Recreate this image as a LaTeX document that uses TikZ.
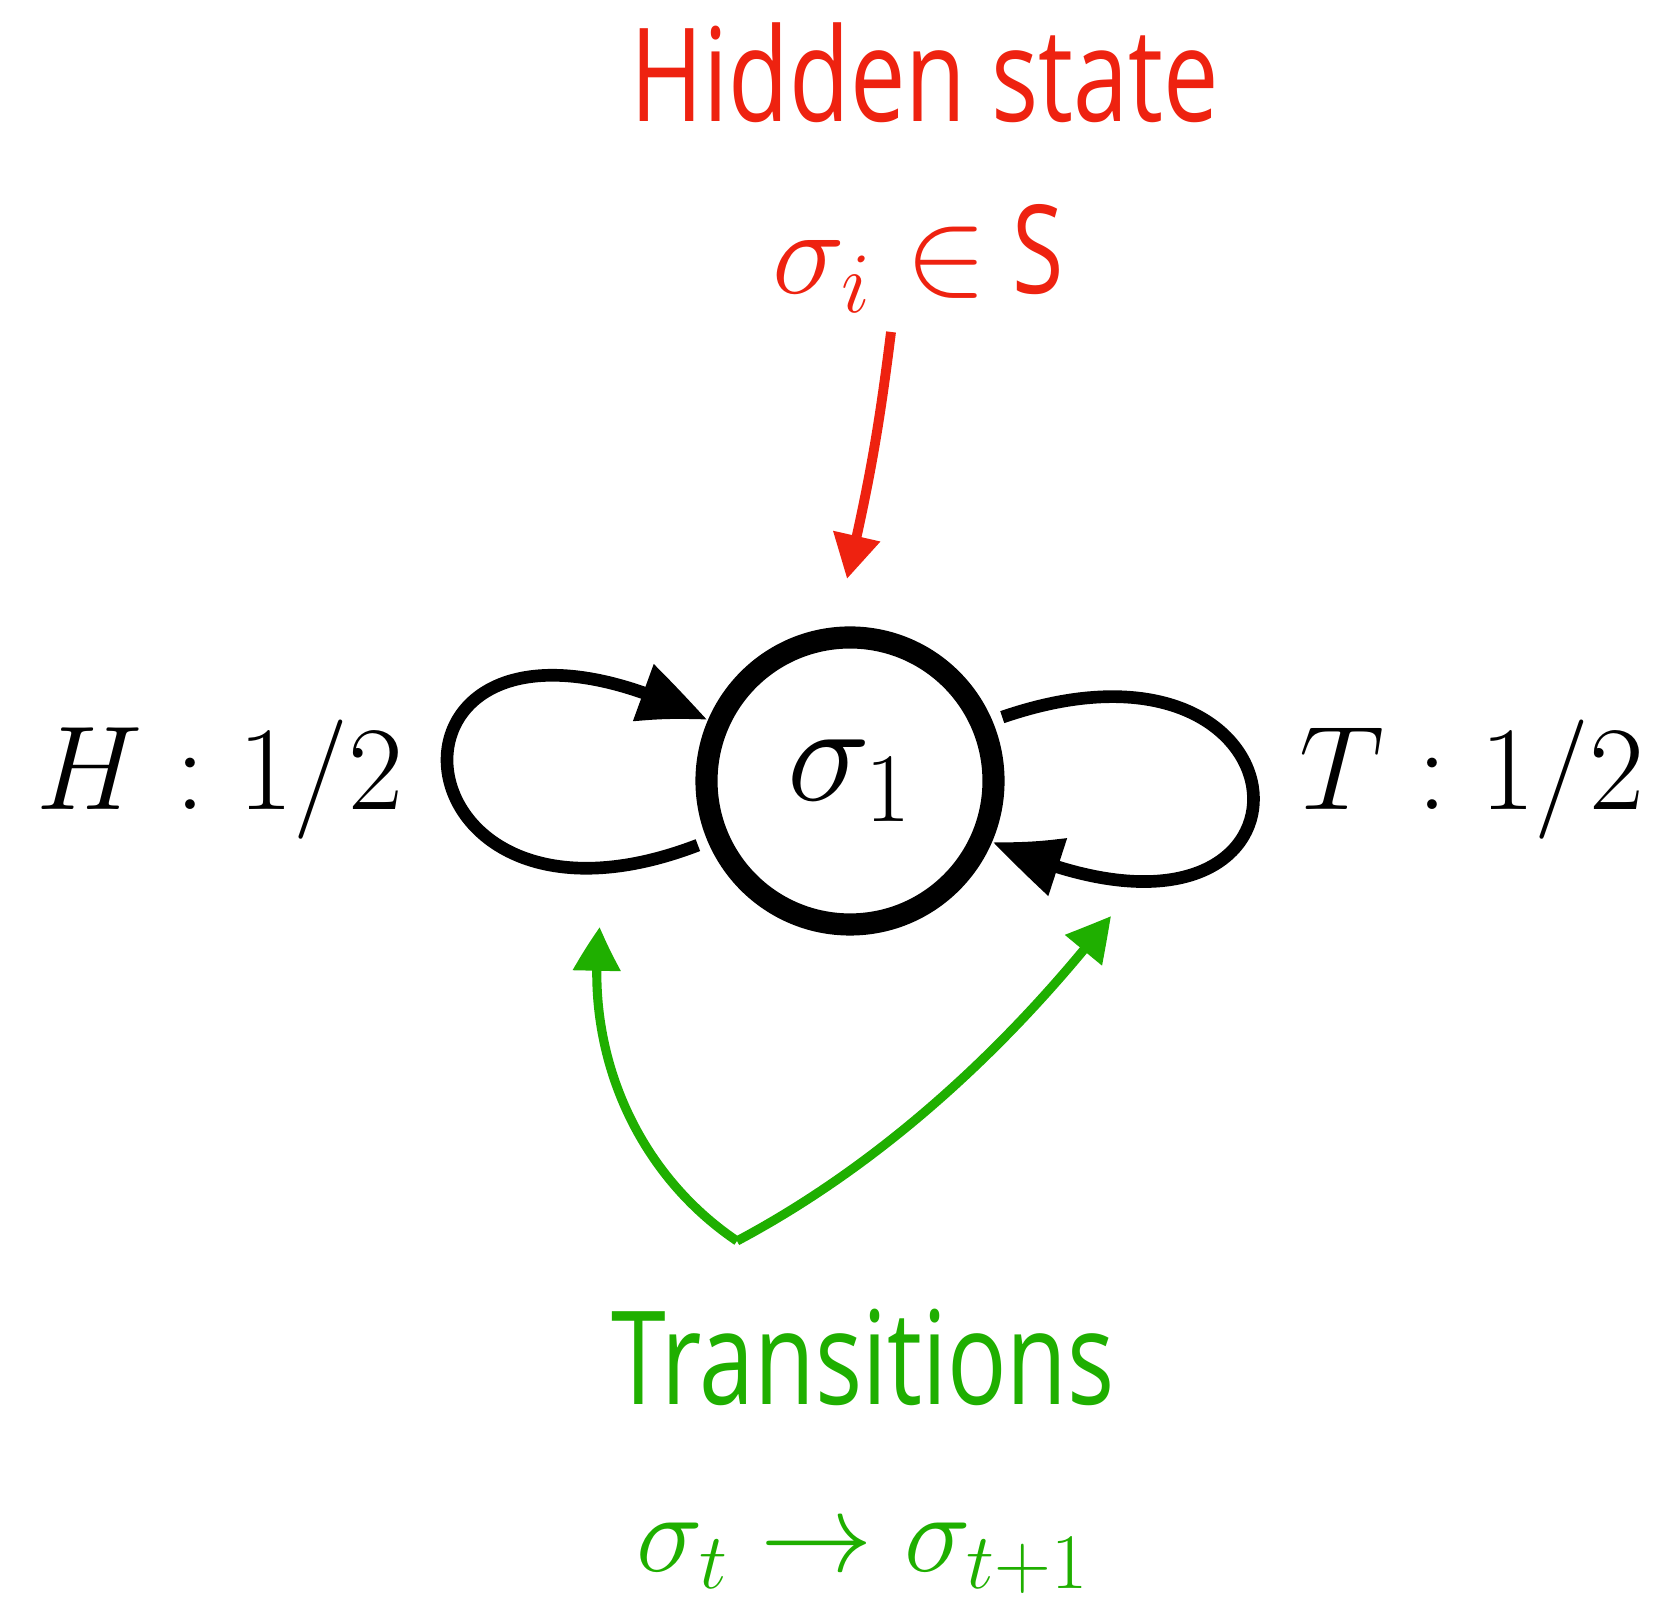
\RequirePackage{fix-cm}
\documentclass[tikz,border=0pt]{standalone}
\usepackage{fontspec}
\setsansfont{Open Sans}[FakeStretch=0.76]
\usetikzlibrary{positioning, arrows.meta, bending}
\definecolor{HidRed}    {HTML}{EE2210}
\definecolor{TransGreen}{HTML}{1FAF00}

\begin{document}
\begin{tikzpicture}[
    state/.style={circle, draw, line width=6.3pt, minimum size=2.87cm, inner sep=0pt},
    selfloop/.style={line width=3.6pt, -{Triangle[length=21pt, width=16pt, bend]}},
    hidarrow/.style={HidRed, line width=2.8pt, -{Triangle[length=12.5pt, width=13pt]}},
    transarrow/.style={TransGreen, line width=2.6pt, -{Triangle[length=12.5pt, width=13pt, bend]}},
    caption/.style={font=\sffamily\fontsize{37}{40}\selectfont, anchor=base, inner sep=0pt},
    mathlbl/.style={font=\fontsize{34}{38}\selectfont, anchor=base, inner sep=0pt}
  ]
  \useasboundingbox (0,0) rectangle (16.66,16.15);

  % the single state and its coin labels
  \node[state, font=\fontsize{40}{44}\selectfont] (s1) at (8.50,8.34) {$\sigma_1$};
  \node[mathlbl] (heads) at (2.20,8.05) {$H: 1/2$};
  \node[mathlbl] (tails) at (14.72,8.05) {$T: 1/2$};

  \draw[selfloop, shorten <=3pt] (s1.203) .. controls +(201:3.6) and +(153:4.0) .. (s1.157);
  \draw[selfloop, shorten <=3pt] (s1.23) .. controls +(19:3.6) and +(-25:3.9) .. (s1.-23);

  % hidden state
  \node[caption, HidRed] (hidden) at (9.25,14.93) {Hidden state};
  \node[caption, HidRed, font=\sffamily\fontsize{35}{38}\selectfont] (hidsym) at (9.18,13.21) {$\sigma_i \in$ S};
  \coordinate (hs) at (8.91,12.83);
  \coordinate (ht) at (8.47,10.36);
  \draw[hidarrow] (hs) to[bend left=3] (ht);

  % transitions
  \coordinate (tr) at (7.37,3.74);
  \coordinate (lt) at (6.00,6.88);
  \coordinate (rt) at (11.11,6.99);
  \draw[transarrow] (tr) to[out=146, in=-98, looseness=0.92] (lt);
  \draw[transarrow] (tr) to[out=28, in=-128, looseness=0.85] (rt);

  \node[caption, TransGreen] (trans) at (8.63,2.10) {Transitions};
  \node[caption, TransGreen, font=\fontsize{32}{36}\selectfont] (transym) at (8.63,0.43) {$\sigma_t \to \sigma_{t+1}$};
\end{tikzpicture}
\end{document}
